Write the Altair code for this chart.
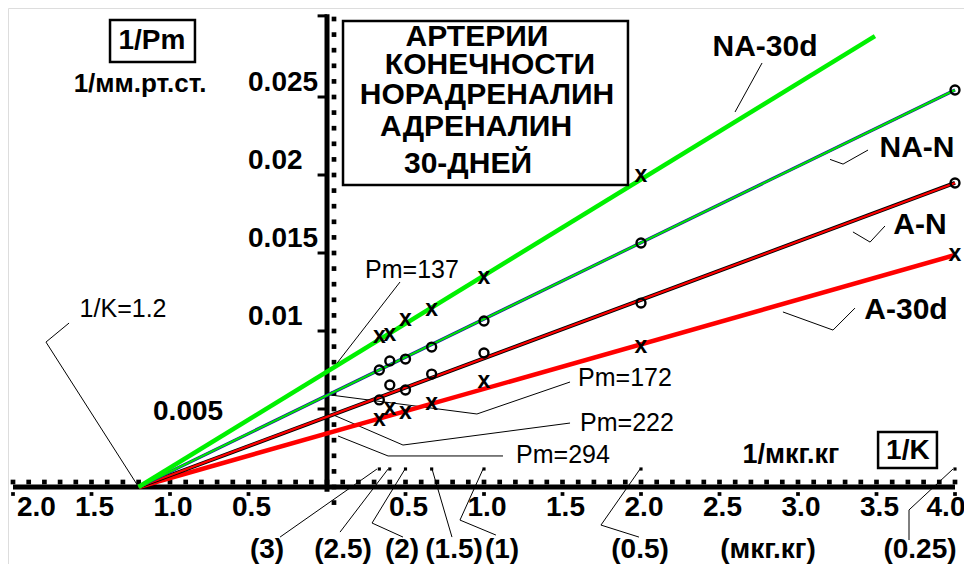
import altair as alt
import pandas as pd

# ------------------------------------------------------------------ data
doses = [3, 2.5, 2, 1.5, 1, 0.5, 0.25]                 # мкг.кг
dose_labels = ["(3)", "(2.5)", "(2)", "(1.5)", "(1)", "(0.5)", "(0.25)"]
inv_dose = [1.0 / d for d in doses]                     # 1/мкг.кг
inv_K = -1.2                                            # common x-intercept

series = ["NA-30d", "NA-N", "A-N", "A-30d"]
line_end_x = [3.49, 4.0, 4.0, 4.0]
line_end_y = [0.0289, 0.02545, 0.01949, 0.01487]

na30_y = [0.00962, 0.00974, 0.01071, 0.01135, 0.0134, 0.01994]
naN_y = [0.0075, 0.00808, 0.0082, 0.00897, 0.01064, 0.01564, 0.02545]
aN_y = [0.00558, 0.00654, 0.00622, 0.00724, 0.00859, 0.01179, 0.01949]
a30_y = [0.0043, 0.005, 0.00474, 0.00532, 0.00673, 0.00897, 0.01487]

pm_labels = ["Pm=137", "Pm=172", "Pm=222", "Pm=294"]

x_tick_vals = [-2.0, -1.5, -1.0, -0.5, 0.5, 1.0, 1.5, 2.0, 2.5, 3.0, 3.5, 4.0]
x_tick_text = ["2.0", "1.5", "1.0", "0.5", "0.5", "1.0", "1.5", "2.0", "2.5", "3.0", "3.5", "4.0"]
x_minor = [round(-2.0 + 0.1 * i, 2) for i in range(61)]
y_tick_vals = [0.005, 0.01, 0.015, 0.02, 0.025]
y_tick_text = ["0.005", "0.01", "0.015", "0.02", "0.025"]
y_minor = [round(0.001 * i, 3) for i in range(-1, 31)]

title_lines = ["АРТЕРИИ", "КОНЕЧНОСТИ", "НОРАДРЕНАЛИН", "АДРЕНАЛИН", "30-ДНЕЙ"]

# ------------------------------------------------------------------ scales
XS = alt.Scale(domain=[-2.03185, 4.05732], nice=False, zero=False)
YS = alt.Scale(domain=[-0.0049359, 0.0307051], nice=False, zero=False)
FONT = "Liberation Sans"


def base(df):
    return alt.Chart(df).encode(
        x=alt.X("x:Q", scale=XS, axis=None),
        y=alt.Y("y:Q", scale=YS, axis=None),
    )


def text_layer(texts, xs, ys, size, weight="bold", align="center", dx=0, dy=0, baseline="middle"):
    df = pd.DataFrame({"x": xs, "y": ys, "t": texts})
    return base(df).mark_text(font=FONT, fontSize=size, fontWeight=weight, align=align,
                              baseline=baseline, dx=dx, dy=dy, color="black").encode(text="t:N")


def polylines(lines, width=1.0, color="black"):
    rows = []
    for g, ln in enumerate(lines):
        for i, (x, y) in enumerate(ln):
            rows.append({"g": g, "i": i, "x": x, "y": y})
    return base(pd.DataFrame(rows)).mark_line(color=color, strokeWidth=width).encode(
        detail="g:N", order="i:Q")


layers = []

# ---------------- axes (custom, drawn through the scales)
layers.append(base(pd.DataFrame({"x": [-2.0], "x2": [4.0], "y": [0.0]})).mark_rule(
    color="black", strokeWidth=5).encode(x2="x2:Q"))
layers.append(base(pd.DataFrame({"x": [0.0], "y": [-0.0003], "y2": [0.0303]})).mark_rule(
    color="black", strokeWidth=5).encode(y2="y2:Q"))
# y major ticks (left) and top cap
layers.append(base(pd.DataFrame({"x": [-0.06] * 6, "x2": [0.0] * 6,
                                 "y": y_tick_vals + [0.0302]})).mark_rule(
    color="black", strokeWidth=3).encode(x2="x2:Q"))
# y minor squares (right)
layers.append(base(pd.DataFrame({"x": [0.0] * len(y_minor), "y": y_minor})).mark_square(
    color="black", size=22, opacity=1, xOffset=7))
# x minor squares (above)
layers.append(base(pd.DataFrame({"x": x_minor, "y": [0.0] * len(x_minor)})).mark_square(
    color="black", size=22, opacity=1, yOffset=-5))
# x major squares (below)
layers.append(base(pd.DataFrame({"x": x_tick_vals, "y": [0.0] * len(x_tick_vals)})).mark_square(
    color="black", size=14, opacity=1, yOffset=7))
# dose markers above the axis
layers.append(base(pd.DataFrame({"x": inv_dose, "y": [0.0] * len(inv_dose)})).mark_square(
    color="black", size=10, opacity=1, yOffset=-18))

# tick labels
layers.append(text_layer(x_tick_text[0:1], x_tick_vals[0:1], [-0.00135], 28, align="left", dx=4))
layers.append(text_layer(x_tick_text[1:-1], x_tick_vals[1:-1], [-0.00135] * 10, 28, dx=3))
layers.append(text_layer(x_tick_text[-1:], x_tick_vals[-1:], [-0.00135], 28, dx=-9))
layers.append(text_layer(y_tick_text[1:], [-0.503] * 4, y_tick_vals[1:], 28, align="left", dy=-14))
layers.append(text_layer(y_tick_text[:1], [-1.108], [0.0048], 28, align="left"))

# ---------------- leader lines
leaders = [
    [(-1.643, 0.01051), (-1.790, 0.00929), (-1.2, 0.0)],                      # 1/K=1.2
    [(2.771, 0.02718), (2.599, 0.02404)],                                      # NA-30d
    [(3.446, 0.0216), (3.287, 0.0207), (3.204, 0.0210)],                       # NA-N
    [(3.554, 0.01673), (3.459, 0.0157), (3.350, 0.01635)],                     # A-N
    [(3.363, 0.01147), (3.223, 0.01006), (2.904, 0.01122)],                    # A-30d
    [(0.465, 0.01314), (0.03, 0.0075)],                                        # Pm=137
    [(1.548, 0.00673), (0.955, 0.00468), (0.02, 0.0059)],                      # Pm=172
    [(1.548, 0.0041), (0.484, 0.00269), (0.045, 0.0046)],                      # Pm=222
    [(1.121, 0.00199), (0.389, 0.00199), (0.07, 0.00327)],                     # Pm=294
    [(0.318, 0.00115), (-0.299, -0.00321)],                                    # (3)
    [(0.389, 0.00115), (0.083, -0.00289)],                                     # (2.5)
    [(0.497, 0.00115), (0.287, -0.00231), (0.484, -0.00321)],                  # (2)
    [(0.669, 0.00115), (0.796, -0.00321)],                                     # (1.5)
    [(0.994, 0.00115), (0.847, -0.00212), (1.076, -0.00308)],                  # (1)
    [(1.994, 0.00115), (1.745, -0.00244), (1.987, -0.00321)],                  # (0.5)
    [(3.987, 0.00115), (3.707, -0.00147), (3.707, -0.00340)],                  # (0.25)
]
layers.append(polylines(leaders, width=1.0))

# ---------------- regression lines
lrows = []
for s, ex, ey in zip(series, line_end_x, line_end_y):
    lrows.append({"s": s, "i": 0, "x": inv_K, "y": 0.0})
    lrows.append({"s": s, "i": 1, "x": ex, "y": ey})
ldf = pd.DataFrame(lrows)


def line_of(name, color, width):
    return base(ldf[ldf.s == name]).mark_line(color=color, strokeWidth=width).encode(order="i:Q")


layers += [
    line_of("A-30d", "#ff0000", 4.5),
    line_of("A-N", "#000000", 4.0),
    line_of("A-N", "#ff0000", 2.2),
    line_of("NA-N", "#1a1aa0", 3.2),
    line_of("NA-N", "#00e600", 2.0),
    line_of("NA-30d", "#00f000", 4.5),
]

# ---------------- data points
xs7 = inv_dose
cross_df = pd.DataFrame({"x": xs7[:6] + xs7, "y": na30_y + a30_y, "t": "x"})
circ_df = pd.DataFrame({"x": xs7 + xs7, "y": naN_y + aN_y})
layers.append(base(circ_df).mark_point(shape="circle", filled=False, color="black",
                                        size=80, strokeWidth=2.4, opacity=1))
layers.append(base(cross_df).mark_text(font=FONT, fontSize=23, fontWeight="bold",
                                        baseline="alphabetic", dy=6,
                                        color="black").encode(text="t:N"))

# ---------------- boxes
boxes = pd.DataFrame({"x": [-1.382, 0.102, 3.51], "x2": [-0.841, 1.917, 3.885],
                      "y": [0.02994, 0.02987, 0.00353], "y2": [0.02724, 0.01936, 0.00122]})
layers.append(base(boxes).mark_rect(filled=False, stroke="black", strokeWidth=2.5).encode(
    x2="x2:Q", y2="y2:Q"))

# ---------------- texts
layers.append(text_layer(title_lines, [0.955, 1.038, 1.019, 0.949, 0.898],
                         [0.02885, 0.02705, 0.02513, 0.02308, 0.02071], 30))
layers.append(text_layer(["1/Pm"], [-1.115], [0.0286], 28))
layers.append(text_layer(["1/мм.рт.ст."], [-1.191], [0.02583], 26))
layers.append(text_layer(["1/K=1.2"], [-1.299], [0.01141], 25, weight="normal"))
layers.append(text_layer(series, [2.790, 3.758, 3.777, 3.688],
                         [0.02821, 0.02173, 0.0168, 0.01135], 30))
layers.append(text_layer(pm_labels, [0.541, 1.898, 1.911, 1.503],
                         [0.01391, 0.00699, 0.0041, 0.00205], 25, weight="normal"))
layers.append(text_layer(["1/мкг.кг"], [2.955], [0.00205], 27))
layers.append(text_layer(["1/K"], [3.70], [0.00231], 28))
layers.append(text_layer(dose_labels + ["(мкг.кг)"],
                         [-0.382, 0.102, 0.478, 0.809, 1.115, 1.994, 3.777, 2.809],
                         [-0.00404] * 8, 28))

chart = alt.layer(*layers).properties(
    width=956, height=556, autosize="none", padding=0
).configure_view(strokeWidth=0).configure(background="white")

chart.save("out.html", embed_options={"renderer": "svg", "actions": False})
